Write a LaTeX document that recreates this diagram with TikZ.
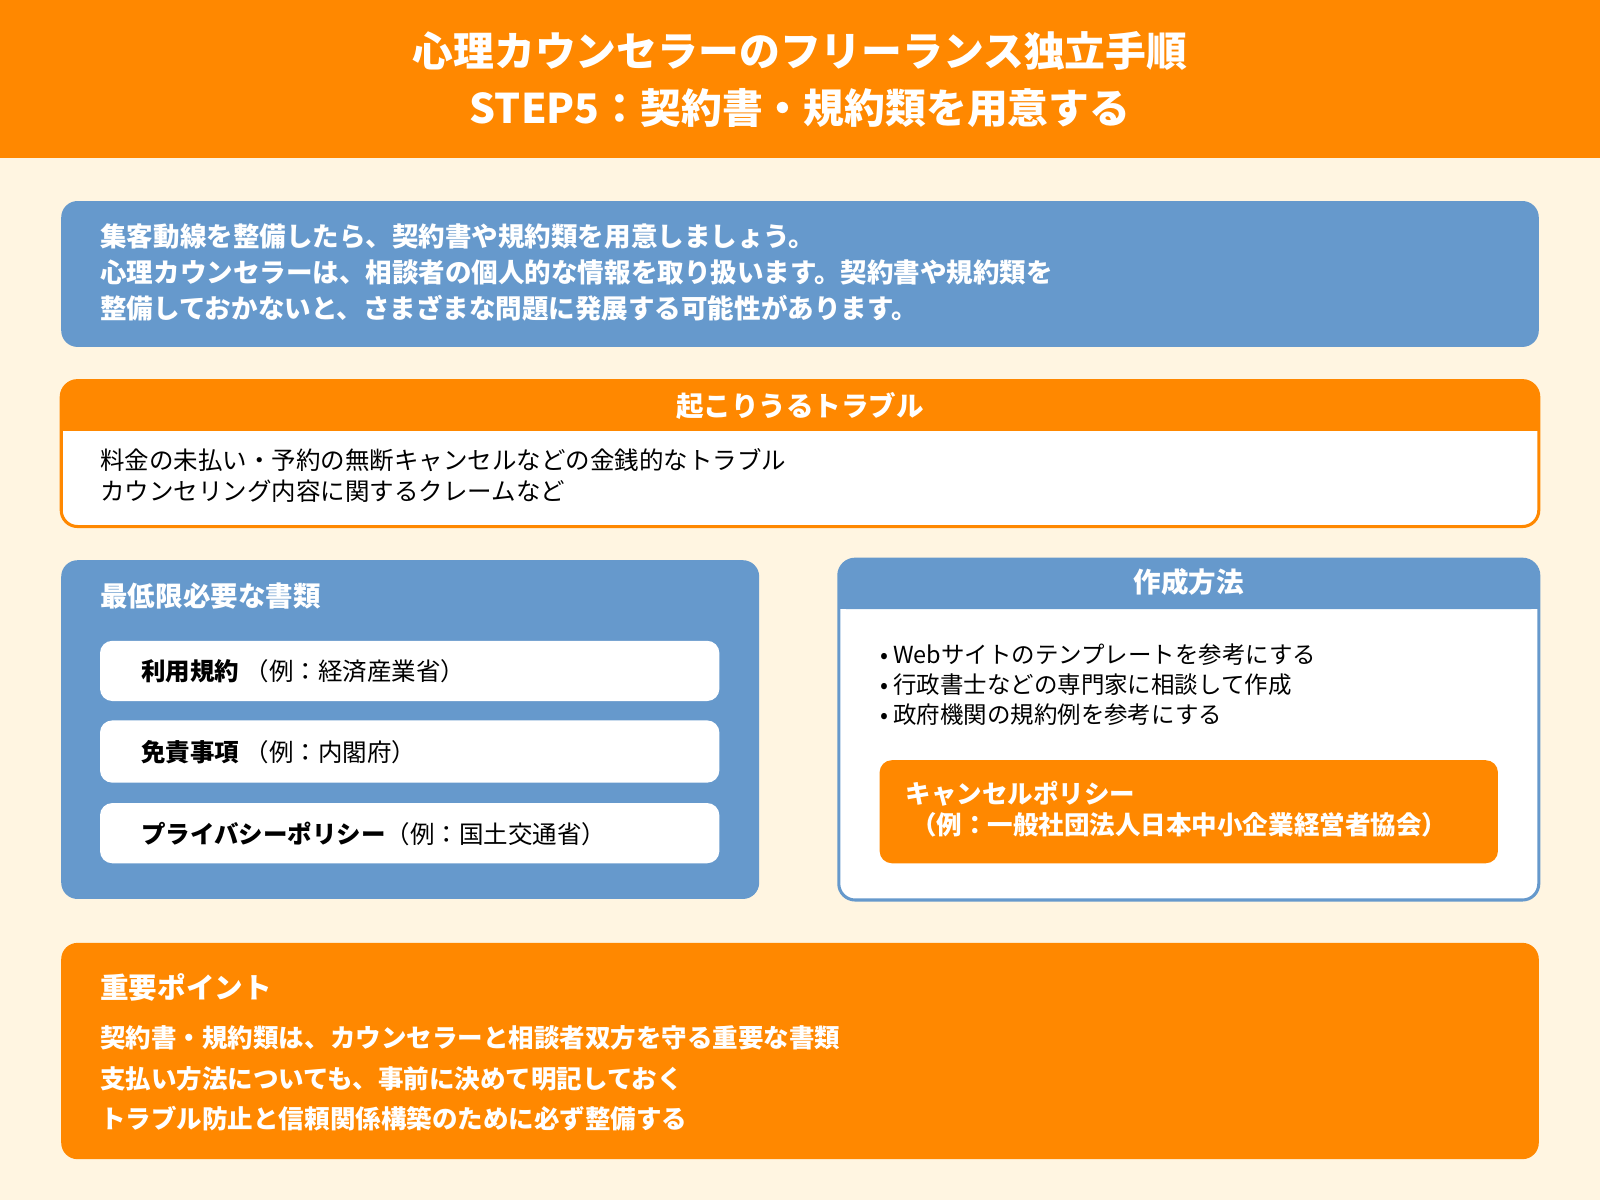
\documentclass[tikz,border=0pt]{standalone}
\usepackage{fontspec}
\setmainfont{Noto Sans CJK JP}
\usetikzlibrary{positioning}
\definecolor{hdorange}{HTML}{FF8800}
\definecolor{cream}{HTML}{FFF5E1}
\definecolor{boxblue}{HTML}{6699CC}

\begin{document}
\begin{tikzpicture}[
  x=0.5pt, y=-0.5pt,
  txt/.style={anchor=west, inner sep=0pt, align=left},
  bluebox/.style={fill=boxblue, rounded corners=8pt},
  orangebox/.style={fill=hdorange, rounded corners=8pt},
  whitebox/.style={fill=white, rounded corners=6pt},
  head/.style={font=\bfseries\fontsize{13.5}{16}\selectfont, text=white, inner sep=0pt}
]
\useasboundingbox (0,0) rectangle (1568,1176);
\fill[cream] (0,0) rectangle (1568,1176);

% header
\fill[hdorange] (0,0) rectangle (1568,155);
\node[align=center, text=white, font=\bfseries\fontsize{20}{27.5}\selectfont] (title) at (784,78)
  {心理カウンセラーのフリーランス独立手順\\STEP5：契約書・規約類を用意する};

% intro
\fill[bluebox] (60,197) rectangle (1508,340);
\node[txt, text=white, font=\bfseries\fontsize{13}{17.5}\selectfont] (intro) at (98,267)
  {集客動線を整備したら、契約書や規約類を用意しましょう。\\
   心理カウンセラーは、相談者の個人的な情報を取り扱います。契約書や規約類を\\
   整備しておかないと、さまざまな問題に発展する可能性があります。};

% trouble
\fill[white, rounded corners=8pt] (60,373) rectangle (1508,516);
\begin{scope}
  \clip[rounded corners=8pt] (60,373) rectangle (1508,516);
  \fill[hdorange, rounded corners=8pt] (55,365) rectangle (1513,422);
  \fill[hdorange] (55,390) rectangle (1513,422);
\end{scope}
\draw[hdorange, line width=1.5pt, rounded corners=8pt] (60,373) rectangle (1508,516);
\node[head] (troublehd) at (784,398) {起こりうるトラブル};
\node[txt, font=\fontsize{12}{15.5}\selectfont] (trouble) at (98,466)
  {料金の未払い・予約の無断キャンセルなどの金銭的なトラブル\\
   カウンセリング内容に関するクレームなど};

% documents
\fill[bluebox] (60,549) rectangle (744,881);
\node[txt, head] (docshd) at (98,584) {最低限必要な書類};
\fill[whitebox] (98,628) rectangle (705,687);
\fill[whitebox] (98,706) rectangle (705,767);
\fill[whitebox] (98,787) rectangle (705,846);
\node[txt, font=\fontsize{12}{15}\selectfont] (doc1) at (138,658) {\textbf{利用規約}\ （例：経済産業省）};
\node[txt, font=\fontsize{12}{15}\selectfont] (doc2) at (138,737) {\textbf{免責事項}\ （例：内閣府）};
\node[txt, font=\fontsize{12}{15}\selectfont] (doc3) at (138,817) {\textbf{プライバシーポリシー}（例：国土交通省）};

% method
\fill[white, rounded corners=8pt] (822,548) rectangle (1508,882);
\begin{scope}
  \clip[rounded corners=8pt] (822,548) rectangle (1508,882);
  \fill[boxblue, rounded corners=8pt] (815,540) rectangle (1515,597);
  \fill[boxblue] (815,570) rectangle (1515,597);
\end{scope}
\draw[boxblue, line width=1.5pt, rounded corners=8pt] (822,548) rectangle (1508,882);
\node[head] (methodhd) at (1165,570) {作成方法};
\node[txt, font=\fontsize{11.5}{14.75}\selectfont] (method) at (862,671)
  {• Webサイトのテンプレートを参考にする\\
   • 行政書士などの専門家に相談して作成\\
   • 政府機関の規約例を参考にする};
\fill[orangebox, rounded corners=6pt] (862,745) rectangle (1468,846);
\node[txt, text=white, font=\bfseries\fontsize{12.5}{15.5}\selectfont] (cancel) at (887,793)
  {キャンセルポリシー\\\ （例：一般社団法人日本中小企業経営者協会）};

% points
\fill[orangebox] (60,924) rectangle (1508,1136);
\node[txt, text=white, font=\bfseries\fontsize{14}{17}\selectfont] (pointhd) at (98,968) {重要ポイント};
\node[txt, text=white, font=\bfseries\fontsize{12.5}{19.75}\selectfont] (points) at (98,1057)
  {契約書・規約類は、カウンセラーと相談者双方を守る重要な書類\\
   支払い方法についても、事前に決めて明記しておく\\
   トラブル防止と信頼関係構築のために必ず整備する};
\end{tikzpicture}
\end{document}
